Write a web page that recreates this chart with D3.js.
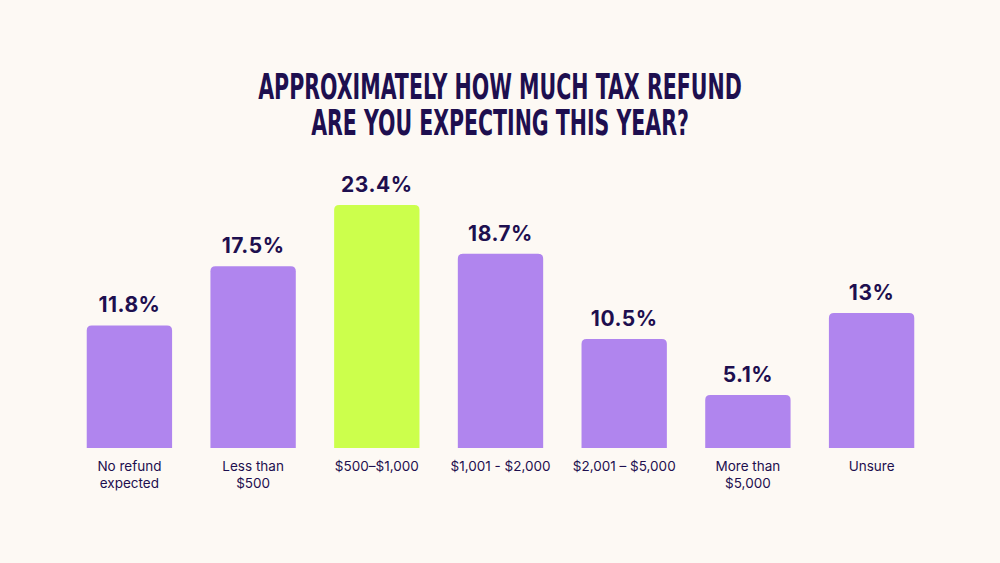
<!DOCTYPE html>
<html>
<head>
<meta charset="utf-8">
<script src="https://cdn.jsdelivr.net/npm/d3@7"></script>
<style>
  html, body { margin: 0; padding: 0; background: #fdf9f4; }
  svg { display: block; }
</style>
</head>
<body>
<div id="chart"></div>
<script>
const categories = [
  ['No refund', 'expected'],
  ['Less than', '$500'],
  ['$500\u2013$1,000'],
  ['$1,001 - $2,000'],
  ['$2,001 \u2013 $5,000'],
  ['More than', '$5,000'],
  ['Unsure']
];
const values = [11.8, 17.5, 23.4, 18.7, 10.5, 5.1, 13];
const valueLabels = ['11.8%', '17.5%', '23.4%', '18.7%', '10.5%', '5.1%', '13%'];
const highlight = 2;
const titleLines = ['APPROXIMATELY HOW MUCH TAX REFUND', 'ARE YOU EXPECTING THIS YEAR?'];
const titleWidths = [484, 378];

(function() {
  let width = 1000;
  let height = 563;
  let baseline = 448;
  let svg = d3.select('#chart')
    .append('svg')
    .attr('width', width)
    .attr('height', height);

  svg.append('rect')
    .attr('width', width)
    .attr('height', height)
    .attr('fill', '#fdf9f4');

  let x = d3.scaleBand()
    .domain(d3.range(values.length))
    .range([62, 939])
    .paddingInner(0.31)
    .paddingOuter(0.2);
  let y = d3.scaleLinear()
    .domain([0, 23.4])
    .range([baseline, 205]);

  // title, squeezed horizontally to look condensed
  svg.append('g')
    .selectAll('text')
    .data(titleLines)
    .join('text')
    .attr('text-anchor', 'middle')
    .attr('font-family', '"DejaVu Sans Condensed", "DejaVu Sans", sans-serif')
    .attr('font-weight', 'bold')
    .attr('font-size', 35)
    .attr('fill', '#1e0f4f')
    .text(d => d)
    .each(function(d, i) {
      let w = this.getComputedTextLength();
      d3.select(this).attr('transform',
        `translate(${width / 2},${99 + i * 36}) scale(${titleWidths[i] / w},1)`);
    });

  // bars with rounded tops
  let r = 5;
  function barPath(i) {
    let x0 = x(i), x1 = x(i) + x.bandwidth();
    let y0 = y(values[i]), y1 = y(0);
    return `M${x0},${y1}V${y0 + r}Q${x0},${y0} ${x0 + r},${y0}` +
      `H${x1 - r}Q${x1},${y0} ${x1},${y0 + r}V${y1}Z`;
  }

  svg.append('g')
    .selectAll('path')
    .data(values)
    .join('path')
    .attr('d', (d, i) => barPath(i))
    .attr('fill', (d, i) => i === highlight ? '#ccff4c' : '#b085ee');

  // value labels
  svg.append('g')
    .selectAll('text')
    .data(values)
    .join('text')
    .attr('x', (d, i) => x(i) + x.bandwidth() / 2)
    .attr('y', d => y(d) - 13)
    .attr('text-anchor', 'middle')
    .attr('font-family', 'Inter, "Noto Sans", sans-serif')
    .attr('font-weight', 'bold')
    .attr('font-size', 21)
    .attr('letter-spacing', 0.5)
    .attr('fill', '#1e0f4f')
    .text((d, i) => valueLabels[i]);

  // category labels
  let cats = svg.append('g')
    .selectAll('text')
    .data(categories)
    .join('text')
    .attr('x', (d, i) => x(i) + x.bandwidth() / 2)
    .attr('y', 471)
    .attr('text-anchor', 'middle')
    .attr('font-family', 'Inter, "Noto Sans", sans-serif')
    .attr('font-size', 13.5)
    .attr('fill', '#1e0f4f');
  cats.each(function(d, i) {
    d3.select(this).selectAll('tspan')
      .data(d)
      .join('tspan')
      .attr('x', x(i) + x.bandwidth() / 2)
      .attr('dy', (t, j) => j === 0 ? 0 : 17)
      .text(t => t);
  });
})();
</script>
</body>
</html>
